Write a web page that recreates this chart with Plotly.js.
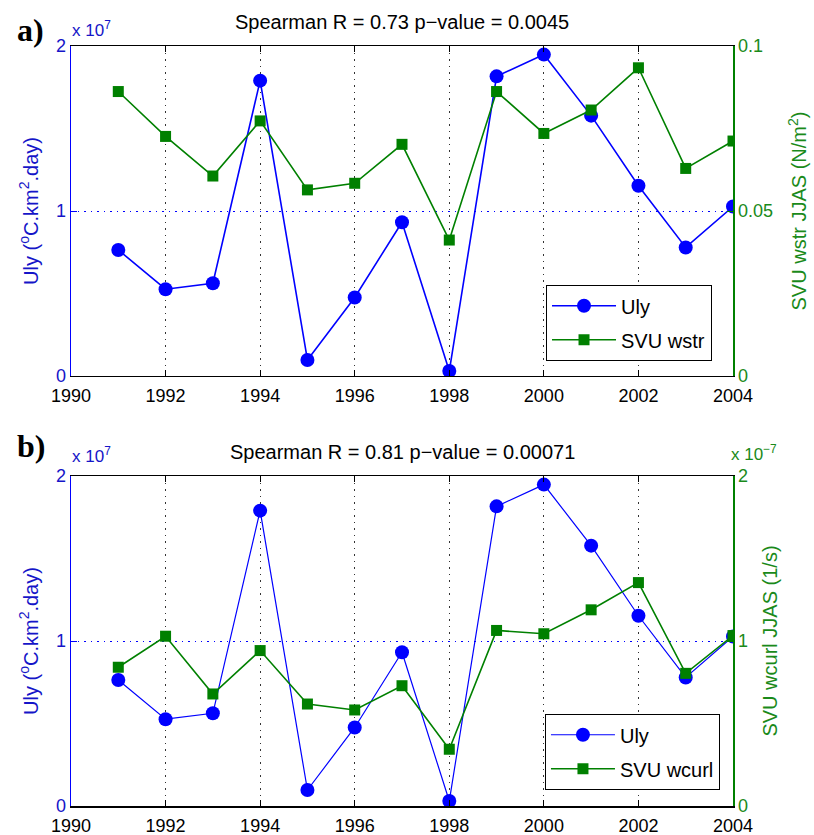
<!DOCTYPE html>
<html>
<head>
<meta charset="utf-8">
<script src="https://cdn.plot.ly/plotly-3.0.1.min.js"></script>
<style>html,body{margin:0;padding:0;background:#fff;}#chart{width:814px;height:835px;}</style>
</head>
<body>
<div id="chart"></div>
<script>
// ---- data ----
const years = [1991, 1992, 1993, 1994, 1995, 1996, 1997, 1998, 1999, 2000, 2001, 2002, 2003, 2004];
const uly = [7.64e6, 5.26e6, 5.62e6, 17.9e6, 0.97e6, 4.76e6, 9.32e6, 0.30e6, 18.16e6, 19.48e6, 15.78e6, 11.53e6, 7.79e6, 10.27e6];
const svuWstr = [0.0862, 0.0726, 0.0606, 0.0773, 0.0564, 0.0584, 0.0702, 0.0412, 0.0862, 0.0735, 0.0806, 0.0934, 0.0629, 0.0712];
const svuWcurl = [0.841e-7, 1.029e-7, 0.679e-7, 0.942e-7, 0.618e-7, 0.582e-7, 0.729e-7, 0.344e-7, 1.064e-7, 1.044e-7, 1.189e-7, 1.354e-7, 0.804e-7, 1.033e-7];
const xTicks = [1990, 1992, 1994, 1996, 1998, 2000, 2002, 2004];
const ulyTickVals = [0, 1e7, 2e7];
const ulyTickText = ['0', '1', '2'];
const wstrTickVals = [0, 0.05, 0.1];
const wstrTickText = ['0', '0.05', '0.1'];
const wcurlTickVals = [0, 1e-7, 2e-7];
const wcurlTickText = ['0', '1', '2'];
const titleA = 'Spearman R = 0.73 p\u2212value = 0.0045';
const titleB = 'Spearman R = 0.81 p\u2212value = 0.00071';

// ---- styles ----
const BLUE = '#0000ff';
const BLUE_T = '#1515c8';
const GREEN = '#008000';
const GREEN_T = '#1a8a1a';
const FONT = 'Liberation Sans, Arial, sans-serif';
const TICKF = 18;

const traces = [
  {x: years, y: uly, xaxis: 'x', yaxis: 'y', name: 'Uly', mode: 'lines+markers', legendgroup: 'a1',
   line: {color: BLUE, width: 1.6}, marker: {symbol: 'circle', size: 14, color: BLUE}, legend: 'legend'},
  {x: years, y: svuWstr, xaxis: 'x', yaxis: 'y2', name: 'SVU wstr', mode: 'lines+markers', legendgroup: 'a2',
   line: {color: GREEN, width: 1.6}, marker: {symbol: 'square', size: 11, color: GREEN}, legend: 'legend'},
  {x: years, y: uly, xaxis: 'x2', yaxis: 'y3', name: 'Uly', mode: 'lines+markers', legendgroup: 'b1',
   line: {color: BLUE, width: 1.2}, marker: {symbol: 'circle', size: 14, color: BLUE}, legend: 'legend2'},
  {x: years, y: svuWcurl, xaxis: 'x2', yaxis: 'y4', name: 'SVU wcurl', mode: 'lines+markers', legendgroup: 'b2',
   line: {color: GREEN, width: 1.6}, marker: {symbol: 'square', size: 11, color: GREEN}, legend: 'legend2'}
];

function xAxis(anchor) {
  return {
    anchor: anchor, range: [1990, 2004], tickvals: xTicks, ticks: 'inside', ticklen: 6,
    tickcolor: '#000', showline: true, linecolor: '#000', linewidth: 1.5, mirror: 'ticks',
    showgrid: true, gridcolor: '#333', griddash: '1.5px,5px', gridwidth: 1, zeroline: false,
    ticklabelstandoff: 3,
    tickfont: {family: FONT, size: TICKF, color: '#000'}
  };
}
function leftAxis(domain, anchor) {
  return {
    domain: domain, anchor: anchor, range: [0, 2e7], tickvals: ulyTickVals, ticktext: ulyTickText,
    ticks: 'inside', ticklen: 6, tickcolor: BLUE, showline: true, linecolor: BLUE, linewidth: 1.5,
    showgrid: true, gridcolor: BLUE, griddash: '1.5px,5px', gridwidth: 1, zeroline: false,
    tickfont: {family: FONT, size: TICKF, color: BLUE_T},
    title: {text: 'Uly (<sup>o</sup>C.km<sup>2</sup>.day)', font: {family: FONT, size: 20, color: BLUE_T}, standoff: 12}
  };
}
function rightAxis(overlay, anchor, range, vals, text, title, standoff) {
  return {
    overlaying: overlay, anchor: anchor, side: 'right', range: range, tickvals: vals, ticktext: text,
    ticks: 'inside', ticklen: 6, tickcolor: GREEN, showline: true, linecolor: GREEN, linewidth: 1.5,
    showgrid: false, zeroline: false,
    tickfont: {family: FONT, size: TICKF, color: GREEN_T},
    title: {text: title, font: {family: FONT, size: 20, color: GREEN_T}, standoff: standoff}
  };
}

const legendStyle = {bgcolor: '#fff', bordercolor: '#000', borderwidth: 1.2, itemwidth: 64,
                     traceorder: 'grouped', tracegroupgap: 5,
                     font: {family: FONT, size: 20, color: '#000'}};

const layout = {
  width: 814, height: 835, paper_bgcolor: '#fff', plot_bgcolor: '#fff',
  margin: {l: 71, r: 81, t: 46, b: 29},
  showlegend: true,
  xaxis: xAxis('y'),
  yaxis: leftAxis([0.5658, 1], 'x'),
  yaxis2: rightAxis('y', 'x', [0, 0.1], wstrTickVals, wstrTickText, 'SVU wstr JJAS (N/m<sup>2</sup>)', 20),
  xaxis2: xAxis('y3'),
  yaxis3: leftAxis([0, 0.4342], 'x2'),
  yaxis4: rightAxis('y3', 'x2', [0, 2e-7], wcurlTickVals, wcurlTickText, 'SVU wcurl JJAS (1/s)', 16),
  legend: Object.assign({x: 0.968, y: 0.5855, xanchor: 'right', yanchor: 'bottom'}, legendStyle),
  legend2: Object.assign({x: 0.980, y: 0.021, xanchor: 'right', yanchor: 'bottom'}, legendStyle),
  annotations: [
    {text: titleA, xref: 'paper', yref: 'paper', x: 0.5, y: 1.0316, xanchor: 'center', yanchor: 'middle',
     showarrow: false, font: {family: FONT, size: 20, color: '#000'}},
    {text: titleB, xref: 'paper', yref: 'paper', x: 0.5, y: 0.4658, xanchor: 'center', yanchor: 'middle',
     showarrow: false, font: {family: FONT, size: 20, color: '#000'}},
    {text: '<b>a)</b>', xref: 'paper', yref: 'paper', x: -0.085, y: 1.0205, xanchor: 'left', yanchor: 'middle',
     showarrow: false, font: {family: 'Liberation Serif, Times New Roman, serif', size: 32, color: '#000'}},
    {text: '<b>b)</b>', xref: 'paper', yref: 'paper', x: -0.085, y: 0.4737, xanchor: 'left', yanchor: 'middle',
     showarrow: false, font: {family: 'Liberation Serif, Times New Roman, serif', size: 32, color: '#000'}},
    {text: 'x 10<sup>7</sup>', xref: 'paper', yref: 'paper', x: -0.002, y: 1.0225, xanchor: 'left', yanchor: 'middle',
     showarrow: false, font: {family: FONT, size: 17, color: BLUE_T}},
    {text: 'x 10<sup>7</sup>', xref: 'paper', yref: 'paper', x: -0.002, y: 0.4625, xanchor: 'left', yanchor: 'middle',
     showarrow: false, font: {family: FONT, size: 17, color: BLUE_T}},
    {text: 'x 10<sup>\u22127</sup>', xref: 'paper', yref: 'paper', x: 0.994, y: 0.4645, xanchor: 'left', yanchor: 'middle',
     showarrow: false, font: {family: FONT, size: 17, color: GREEN_T}}
  ]
};

Plotly.newPlot('chart', traces, layout, {displayModeBar: false, staticPlot: true});
</script>
</body>
</html>
